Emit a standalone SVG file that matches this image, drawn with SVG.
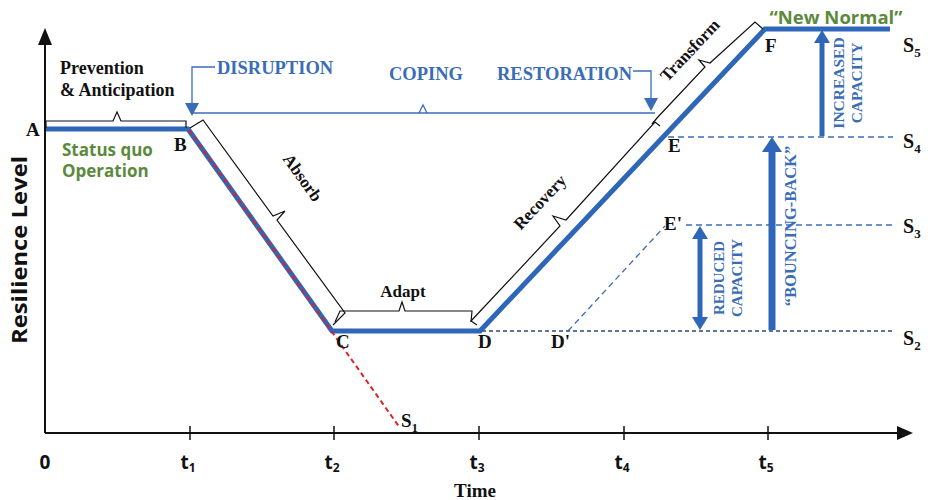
<svg xmlns="http://www.w3.org/2000/svg" width="928" height="500" viewBox="0 0 928 500">
<style>
.tb{font-family:"Liberation Serif",serif;font-weight:bold;fill:#111}
.bl{font-family:"Liberation Serif",serif;font-weight:bold;fill:#3a6db6}
.gr{font-family:"Open Sans","Liberation Sans",sans-serif;font-weight:bold;fill:#5b8a3c}
.sn{font-family:"Open Sans","Liberation Sans",sans-serif;font-weight:bold;fill:#111}
.ax{stroke:#111;stroke-width:2;fill:none}
.br{stroke:#111;stroke-width:1.2;fill:none;stroke-linejoin:miter}
.main{stroke:#2e67b9;stroke-width:5;fill:none;stroke-linejoin:miter}
.thin{stroke:#3a6db6;stroke-width:1.3;fill:none}
.dash{stroke:#3a6db6;stroke-width:1.3;fill:none;stroke-dasharray:6 4}
.dashdk{stroke:#2a4a7a;stroke-width:1.4;fill:none;stroke-dasharray:4 3}
.red{stroke:#d6262b;stroke-width:2;fill:none;stroke-dasharray:5 3.5}
</style>
<rect width="928" height="500" fill="#fff"/>

<g id="axes">
<line class="ax" x1="45" y1="40" x2="45" y2="433"/>
<polygon points="45,28 38,45 52,45" fill="#111"/>
<line class="ax" x1="45" y1="433" x2="900" y2="433"/>
<polygon points="913,433 897,426 897,440" fill="#111"/>
<g stroke="#111" stroke-width="1.5">
<line x1="190" y1="426" x2="190" y2="440"/>
<line x1="334" y1="426" x2="334" y2="440"/>
<line x1="479" y1="426" x2="479" y2="440"/>
<line x1="624" y1="426" x2="624" y2="440"/>
<line x1="768" y1="426" x2="768" y2="440"/>
</g>
<g class="sn" font-size="19" text-anchor="middle">
<text x="45" y="469">0</text>
<text x="188" y="469">t<tspan font-size="12" dy="3">1</tspan></text>
<text x="332" y="469">t<tspan font-size="12" dy="3">2</tspan></text>
<text x="477" y="469">t<tspan font-size="12" dy="3">3</tspan></text>
<text x="622" y="469">t<tspan font-size="12" dy="3">4</tspan></text>
<text x="766" y="469">t<tspan font-size="12" dy="3">5</tspan></text>
</g>
<text class="tb" x="475" y="497" font-size="19" text-anchor="middle">Time</text>
<text class="sn" x="0" y="0" font-size="22" text-anchor="middle" textLength="188" lengthAdjust="spacingAndGlyphs" transform="translate(27,250) rotate(-90)">Resilience Level</text>
</g>

<g id="levels">
<line class="dash" x1="668" y1="137" x2="893" y2="137"/>
<line class="dash" x1="686" y1="225" x2="893" y2="225"/>
<line class="dashdk" x1="482" y1="331" x2="893" y2="331"/>
<line class="dash" x1="568" y1="331" x2="665" y2="226" stroke-width="1"/>
<g class="tb" font-size="20">
<text x="903" y="52">S<tspan font-size="13" dy="5">5</tspan></text>
<text x="903" y="148">S<tspan font-size="13" dy="5">4</tspan></text>
<text x="903" y="233">S<tspan font-size="13" dy="5">3</tspan></text>
<text x="903" y="345">S<tspan font-size="13" dy="5">2</tspan></text>
</g>
</g>

<g id="path">
<polyline class="main" points="46,129 188,129 332,331 480,331 765,29 890,29"/>
<line class="red" x1="189" y1="130" x2="400" y2="428"/>
</g>

<g id="points" class="tb" font-size="19">
<text x="26" y="136">A</text>
<text x="174" y="151">B</text>
<text x="336" y="348">C</text>
<text x="478" y="348">D</text>
<text x="551" y="348">D'</text>
<text x="668" y="152">E</text>
<text x="664" y="230">E'</text>
<text x="765" y="52">F</text>
<text x="401" y="427">S<tspan font-size="13" dy="5">1</tspan></text>
</g>

<g id="labels">
<text class="gr" x="62" y="156" font-size="17">Status quo</text>
<text class="gr" x="62" y="177" font-size="17">Operation</text>
<text class="gr" x="836" y="24" font-size="18.5" text-anchor="middle">“New Normal”</text>
<text class="tb" x="60" y="74" font-size="18">Prevention</text>
<text class="tb" x="60" y="96" font-size="18">&amp; Anticipation</text>
</g>

<g id="brackets">
<path class="br" d="M46,128 L46,121 L113,121 L117,112 L121,121 L186,121 L186,128"/>
<path class="br" d="M190,128 L203,120 L273,216 L285,211 L277,220 L345,313 L333,325"/>
<text class="tb" font-size="17" text-anchor="middle" transform="translate(298,181) rotate(54.5)">Absorb</text>
<path class="br" d="M335,322 L340,311 L399,311 L402,302 L405,311 L472,311 L471,322"/>
<text class="tb" x="403" y="297" font-size="17" text-anchor="middle">Adapt</text>
<path class="br" d="M477,325 L471,321 L560,226 L553,216 L566,220 L655,122 L660,126"/>
<text class="tb" font-size="17" text-anchor="middle" transform="translate(544,206) rotate(-46.7)">Recovery</text>
<path class="br" d="M652,124 L657,118 L705,67 L699,60 L710,63 L755,22 L763,29"/>
<text class="tb" font-size="17" text-anchor="middle" transform="translate(694,54) rotate(-46.7)">Transform</text>
</g>

<g id="phases">
<path class="thin" d="M192,113 L655,113 M419,113 L423,105 L427,113"/>
<path class="thin" d="M192,113 L192,67 L215,67"/>
<polygon points="192,116 185,103 199,103" fill="#3a6db6"/>
<text class="bl" x="217" y="74" font-size="18.5">DISRUPTION</text>
<text class="bl" x="426" y="80" font-size="18.5" text-anchor="middle">COPING</text>
<text class="bl" x="497" y="80" font-size="18.5">RESTORATION</text>
<path class="thin" d="M633,71 L651,71 L651,100"/>
<polygon points="651,111 644,98 658,98" fill="#3a6db6"/>
</g>

<g id="capacity">
<line x1="700" y1="238" x2="700" y2="318" stroke="#2e67b9" stroke-width="5"/>
<polygon points="700,226 692,239 708,239" fill="#2e67b9"/>
<polygon points="700,330 692,317 708,317" fill="#2e67b9"/>
<text class="bl" font-size="15" text-anchor="middle" transform="translate(724,278) rotate(-90)">REDUCED</text>
<text class="bl" font-size="15" text-anchor="middle" transform="translate(742,278) rotate(-90)">CAPACITY</text>
<line x1="772" y1="330" x2="772" y2="150" stroke="#2e67b9" stroke-width="7"/>
<polygon points="772,137 762,152 782,152" fill="#2e67b9"/>
<text class="bl" font-size="16.5" text-anchor="middle" transform="translate(796,226) rotate(-90)">“BOUNCING-BACK”</text>
<line x1="822" y1="136" x2="822" y2="42" stroke="#2e67b9" stroke-width="5"/>
<polygon points="822,30 814,43 830,43" fill="#2e67b9"/>
<text class="bl" font-size="15.5" text-anchor="middle" transform="translate(844,83) rotate(-90)">INCREASED</text>
<text class="bl" font-size="15.5" text-anchor="middle" transform="translate(862,83) rotate(-90)">CAPACITY</text>
</g>
</svg>
